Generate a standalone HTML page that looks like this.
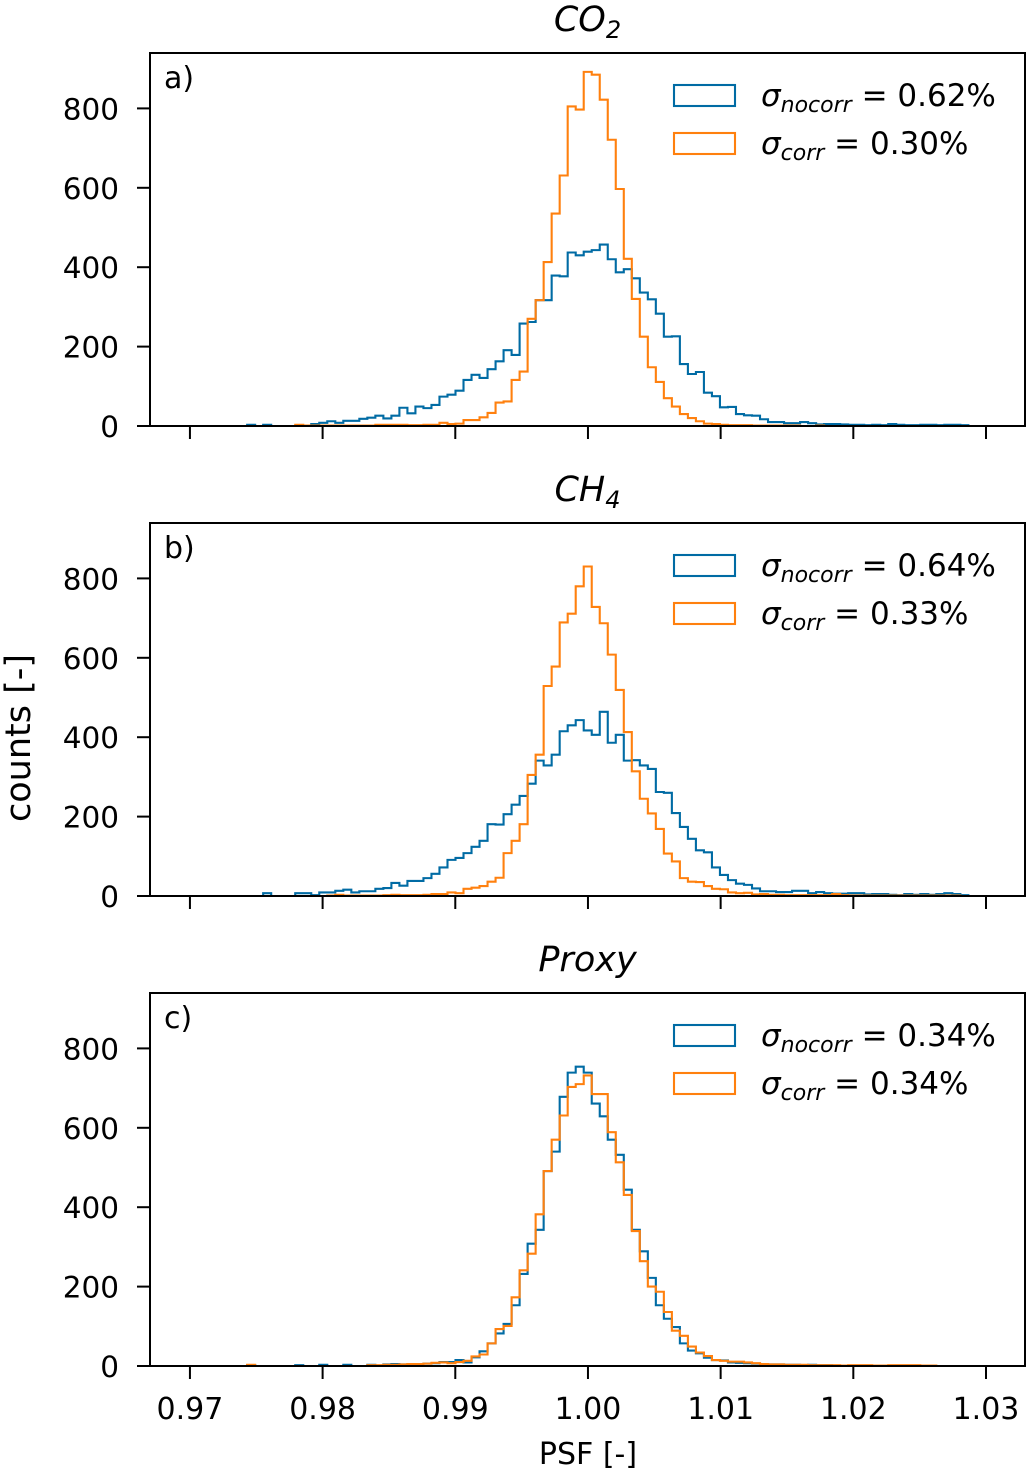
<!DOCTYPE html>
<html><head><meta charset="utf-8"><style>
html,body{margin:0;padding:0;background:#fff;}
svg{display:block;font-family:"DejaVu Sans","Liberation Sans",sans-serif;}
</style></head><body>
<svg id="chart" width="1028" height="1471" viewBox="0 0 1028 1471" xmlns="http://www.w3.org/2000/svg"></svg>
<script>
// ---- data (bin index i: left edge = BIN_START + i*BIN_WIDTH) ----
const BIN_START = 0.973708;
const BIN_WIDTH = 0.000604;
const xTicks = [0.97, 0.98, 0.99, 1.00, 1.01, 1.02, 1.03];
const xTickLabels = ["0.97","0.98","0.99","1.00","1.01","1.02","1.03"];
const yTicks = [0, 200, 400, 600, 800];
const panelTitles = ["CO2", "CH4", "Proxy"];
const panelLetters = ["a)", "b)", "c)"];
const sigmaNocorr = ["0.62%", "0.64%", "0.34%"];
const sigmaCorr = ["0.30%", "0.33%", "0.34%"];
const co2Nocorr = [0,3,0,3,0,0,0,0,0,5,8,12,8,13,13,18,21,26,19,26,46,32,49,45,53,74,79,89,116,129,121,143,163,191,179,258,262,317,317,379,377,437,430,439,443,457,420,387,395,372,336,319,283,225,226,156,131,136,84,75,47,48,30,27,26,17,10,10,7,7,10,7,4,5,5,4,3,3,2,3,2,5,3,2,2,3,3,2,3,3,2,0,0,0,0,0,0,0];
const co2Corr = [0,0,0,0,0,0,0,3,1,1,1,1,1,1,1,1,1,3,3,3,3,2,2,3,3,8,5,6,15,15,22,33,59,62,116,137,270,317,413,535,631,805,797,892,885,822,721,597,421,320,225,148,111,70,49,30,20,12,6,5,3,2,2,2,1,1,1,1,1,1,0,0,1,0,0,0,0,0,0,0,0,0,0,0,0,0,0,0,0,0,0,0,0,0,0,0,0,0];
const ch4Nocorr = [0,0,0,7,0,0,0,7,7,2,9,9,13,16,9,12,12,18,20,33,26,38,38,45,56,72,91,96,108,124,139,181,180,206,230,252,283,341,329,356,415,430,443,417,406,464,386,406,341,342,329,320,262,260,209,174,144,115,110,72,53,40,31,28,19,12,12,10,10,13,13,7,10,7,6,6,7,7,4,5,5,3,2,5,3,5,3,5,7,5,2,0,0,0,0,0,0,0];
const ch4Corr = [0,0,0,0,0,0,0,0,0,0,0,1,3,1,1,1,1,1,2,3,2,2,2,3,5,5,9,7,18,21,25,36,46,108,139,181,305,356,529,578,689,711,780,830,728,687,608,519,413,314,245,208,169,107,87,45,36,35,25,18,17,9,7,8,4,5,3,3,2,2,2,2,2,2,5,2,1,1,1,1,1,1,1,1,1,1,1,1,1,1,0,0,0,0,0,0,0,0];
const proxyNocorr = [0,2,0,0,0,0,0,2,0,0,3,0,0,3,0,0,3,0,4,5,4,5,4,6,7,10,10,15,9,22,37,57,82,106,153,232,308,343,491,540,678,739,754,739,661,629,570,532,444,343,289,222,153,119,98,57,39,32,21,15,14,9,8,7,6,5,4,4,3,3,2,3,2,2,1,1,1,1,1,0,0,0,0,0,0,0,0,0,0,0,0,0,0,0,0,0,0,0];
const proxyCorr = [0,3,0,0,0,0,0,0,0,0,0,0,0,0,0,0,2,2,3,3,4,5,5,6,8,9,7,10,13,24,29,57,93,101,173,241,283,382,491,570,631,703,710,732,685,685,589,513,431,340,264,200,187,136,89,76,49,34,25,15,13,11,11,9,7,5,4,4,3,3,3,2,2,2,2,1,2,2,2,1,1,2,2,2,2,1,1,0,0,0,0,0,0,0,0,0,0,0];
const nocorrSeries = [co2Nocorr, ch4Nocorr, proxyNocorr];
const corrSeries = [co2Corr, ch4Corr, proxyCorr];

const BLUE = "#006BA4", ORANGE = "#FF800E";
const NS = "http://www.w3.org/2000/svg";
const svg = document.getElementById("chart");
const AX_L = 150, AX_R = 1025;
const X_MIN = 0.96699, X_MAX = 1.03294;
const panelTops = [53, 523, 993];
const PH = 373;
const Y_MAX = PH / 0.3970;
function xs(v){ return AX_L + (v - X_MIN) / (X_MAX - X_MIN) * (AX_R - AX_L); }
function mk(tag, attrs, parent){ const e = document.createElementNS(NS, tag); for (const k in attrs) e.setAttribute(k, attrs[k]); (parent||svg).appendChild(e); return e; }

for (let p = 0; p < 3; p++) {
  const top = panelTops[p], bot = top + PH;
  const ys = v => bot - v / Y_MAX * PH;
  const g = mk("g", {});
  
  
  const clipId = "clip" + p;
  const cp = mk("clipPath", {id: clipId}, g);
  mk("rect", {x: AX_L, y: top, width: AX_R - AX_L, height: PH}, cp);
  const series = [[nocorrSeries[p], BLUE, 'nocorr'], [corrSeries[p], ORANGE, 'corr']];
  for (const [vals, col, nm] of series) {
    let d = "M" + xs(BIN_START).toFixed(2) + "," + ys(0).toFixed(2);
    for (let i = 0; i < vals.length; i++) {
      const x0 = xs(BIN_START + i * BIN_WIDTH), x1 = xs(BIN_START + (i + 1) * BIN_WIDTH), y = ys(vals[i]);
      d += " L" + x0.toFixed(2) + "," + y.toFixed(2) + " L" + x1.toFixed(2) + "," + y.toFixed(2);
    }
    d += " L" + xs(BIN_START + vals.length * BIN_WIDTH).toFixed(2) + "," + ys(0).toFixed(2);
    const path = mk("path", {d: d, fill: "none", stroke: col, "stroke-width": 2.1, "clip-path": "url(#" + clipId + ")"}, g);
    
    
  }
  const fr = mk("rect", {x: AX_L, y: top, width: AX_R - AX_L, height: PH, fill: "none", stroke: "#000", "stroke-width": 2}, g);
  
  
  for (const t of yTicks) {
    const y = ys(t);
    mk("line", {x1: AX_L - 13, x2: AX_L, y1: y, y2: y, stroke: "#000", "stroke-width": 2}, g);
    const tx = mk("text", {x: 119, y: y + 11, "text-anchor": "end", "font-size": 29.5}, g);
    tx.textContent = String(t);
    
    
  }
  for (let k = 0; k < xTicks.length; k++) {
    const x = xs(xTicks[k]);
    mk("line", {x1: x, x2: x, y1: bot, y2: bot + 13, stroke: "#000", "stroke-width": 2}, g);
    if (p === 2) {
      const tx = mk("text", {x: x, y: 1419, "text-anchor": "middle", "font-size": 30}, g);
      tx.textContent = xTickLabels[k];
      
      
    }
  }
  const title = mk("text", {x: (AX_L + AX_R) / 2, y: top - 22, "text-anchor": "middle", "font-size": 35, "font-style": "italic"}, g);
  
  
  if (p < 2) {
    title.innerHTML = (p === 0 ? "CO" : "CH") + '<tspan font-size="24" dy="7">' + (p === 0 ? "2" : "4") + '</tspan>';
  } else title.textContent = panelTitles[p];
  const lt = mk("text", {x: 164, y: top + 35, "font-size": 30}, g);
  lt.textContent = panelLetters[p];
  
  
  const lg = mk("g", {}, g);
  
  
  const entries = [[BLUE, "nocorr", sigmaNocorr[p]], [ORANGE, "corr", sigmaCorr[p]]];
  entries.forEach((e, j) => {
    const by = top + 32 + j * 48;
    const box = mk("rect", {x: 674, y: by, width: 61, height: 21, fill: "none", stroke: e[0], "stroke-width": 2.1}, lg);
    
    
    const t = mk("text", {x: 761, y: by + 21, "font-size": 31}, lg);
    
    
    t.innerHTML = '<tspan font-style="italic">σ</tspan><tspan font-style="italic" font-size="22" dy="6">' + e[1] + '</tspan><tspan dy="-6"> = ' + e[2] + '</tspan>';
  });
}
const xl = mk("text", {x: 588, y: 1464, "text-anchor": "middle", "font-size": 30});
xl.textContent = "PSF [-]";


const yl = mk("text", {x: 0, y: 0, "text-anchor": "middle", "font-size": 35, transform: "translate(30,738) rotate(-90)"});
yl.textContent = "counts [-]";


</script>
</body></html>
